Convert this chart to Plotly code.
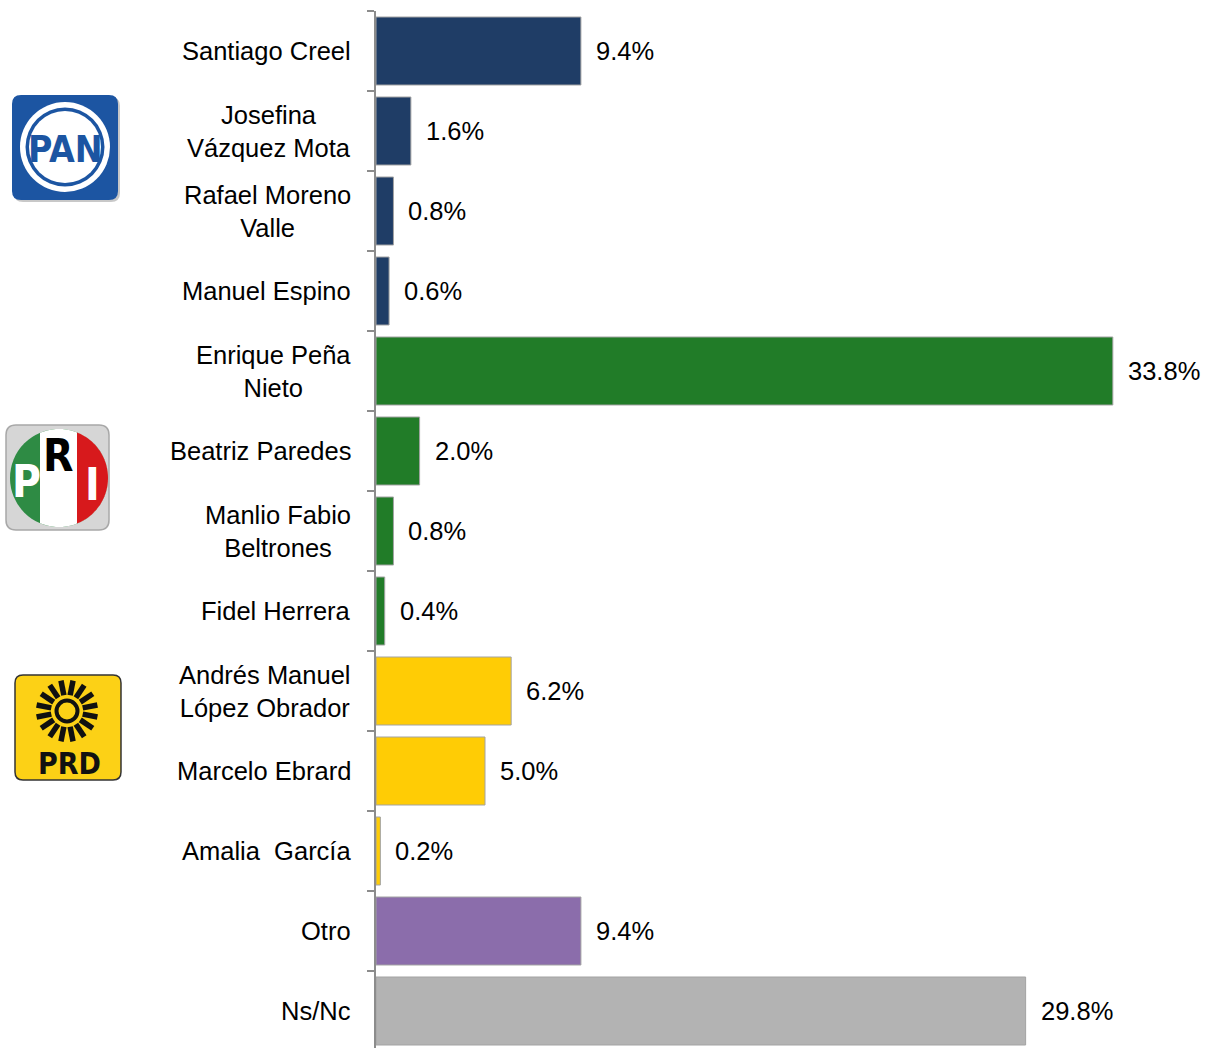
import numpy as np
import plotly.graph_objects as go

# ---------------- data ----------------
candidates = [
    "Santiago Creel", "Josefina Vázquez Mota", "Rafael Moreno Valle", "Manuel Espino",
    "Enrique Peña Nieto", "Beatriz Paredes", "Manlio Fabio Beltrones", "Fidel Herrera",
    "Andrés Manuel López Obrador", "Marcelo Ebrard", "Amalia  García", "Otro", "Ns/Nc",
]
tick_labels = [
    "Santiago Creel", "Josefina<br>Vázquez Mota", "Rafael Moreno<br>Valle", "Manuel Espino",
    "Enrique Peña<br>Nieto", "Beatriz Paredes", "Manlio Fabio<br>Beltrones", "Fidel Herrera",
    "Andrés Manuel<br>López Obrador", "Marcelo Ebrard", "Amalia\u00a0 García", "Otro", "Ns/Nc",
]
values = [9.4, 1.6, 0.8, 0.6, 33.8, 2.0, 0.8, 0.4, 6.2, 5.0, 0.2, 9.4, 29.8]
parties = ["PAN", "PAN", "PAN", "PAN", "PRI", "PRI", "PRI", "PRI",
           "PRD", "PRD", "PRD", "Otro", "NsNc"]

# ---------------- style ----------------
party_colors = {"PAN": "#1f3d66", "PRI": "#217c28", "PRD": "#ffcc05",
                "Otro": "#8b6dab", "NsNc": "#b3b3b3"}
OFF = 0                      # page margin around the figure (body margin removed)
W, H = 1205 - OFF, 1048 - OFF
FONT = "Liberation Sans, Arial, sans-serif"
NARROW = "Liberation Sans Narrow, Arial Narrow, DejaVu Sans Condensed, sans-serif"
AXIS_X = 376                 # page pixel of the category axis
TOP_Y = 11                   # page pixel of the plot top
PX_PER_UNIT = 21.8
BAND = 80.0


def fx(p):
    return (p - OFF) / W


def fy(p):
    return (H - (p - OFF)) / H


def rrect(x0, y0, x1, y1, r):
    pts = [
        ("M", (x0 + r, y0)), ("L", (x1 - r, y0)), ("Q", (x1, y0), (x1, y0 + r)),
        ("L", (x1, y1 - r)), ("Q", (x1, y1), (x1 - r, y1)), ("L", (x0 + r, y1)),
        ("Q", (x0, y1), (x0, y1 - r)), ("L", (x0, y0 + r)), ("Q", (x0, y0), (x0 + r, y0)),
    ]
    s = ""
    for item in pts:
        cmd = item[0]
        coords = " ".join(f"{fx(a):.5f},{fy(b):.5f}" for a, b in item[1:])
        s += f"{cmd}{coords} "
    return s + "Z"


def segment(cx, cy, r, xcut):
    a = np.arccos((xcut - cx) / r)
    th = np.linspace(-a, a, 60)
    xs = cx + r * np.cos(th)
    ys = cy + r * np.sin(th)
    s = "M" + " L".join(f"{fx(x):.5f},{fy(y):.5f}" for x, y in zip(xs, ys))
    return s + " Z"


def circle(cx, cy, r, fill, line=None, lw=0):
    return dict(type="circle", xref="paper", yref="paper",
                x0=fx(cx - r), x1=fx(cx + r), y0=fy(cy + r), y1=fy(cy - r),
                fillcolor=fill, line=dict(color=line or fill, width=lw), layer="above")


bar_colors = [party_colors[p] for p in parties]

fig = go.Figure(go.Bar(
    x=values, y=candidates, orientation="h",
    marker=dict(color=bar_colors, line=dict(color="#a3a3a3", width=1)),
    hoverinfo="skip",
))

annotations = []
for c, lab in zip(candidates, tick_labels):
    annotations.append(dict(x=fx(AXIS_X), xref="paper", y=c, yref="y", text=lab,
                            xanchor="right", yanchor="middle", align="center",
                            xshift=-23, showarrow=False,
                            font=dict(family=FONT, size=25.5, color="#000000")))
for c, v in zip(candidates, values):
    annotations.append(dict(x=v, xref="x", y=c, yref="y", text=f"{v:.1f}%",
                            xanchor="left", yanchor="middle", xshift=13,
                            showarrow=False,
                            font=dict(family=FONT, size=25.5, color="#000000")))

shapes = []
# ---- PAN logo ----
pan_blue = "#1c55a2"
shapes.append(dict(type="path", xref="paper", yref="paper", path=rrect(14, 97, 120, 202, 9),
                   fillcolor="#c8c8c8", line=dict(width=0), layer="above"))
shapes.append(dict(type="path", xref="paper", yref="paper", path=rrect(12, 95, 118, 200, 9),
                   fillcolor=pan_blue, line=dict(width=0), layer="above"))
shapes.append(circle(65, 147, 45, "#ffffff"))
shapes.append(circle(65, 147, 39.5, pan_blue))
shapes.append(circle(65, 147, 36, "#ffffff"))
annotations.append(dict(x=fx(65), y=fy(149), xref="paper", yref="paper", text="<b>PAN</b>",
                        showarrow=False, xanchor="center", yanchor="middle",
                        font=dict(family=NARROW, size=37, color=pan_blue)))

# ---- PRI logo ----
shapes.append(dict(type="path", xref="paper", yref="paper", path=rrect(6, 425, 109, 530, 10),
                   fillcolor="#d6d6d6", line=dict(color="#a8a8a8", width=1.5), layer="above"))
shapes.append(circle(59, 478, 49, "#2e8b44"))
shapes.append(dict(type="path", xref="paper", yref="paper", path=segment(59, 478, 49, 40),
                   fillcolor="#ffffff", line=dict(width=0), layer="above"))
shapes.append(dict(type="path", xref="paper", yref="paper", path=segment(59, 478, 49, 77),
                   fillcolor="#d7191c", line=dict(width=0), layer="above"))
for txt, cx, cy, col in [("P", 26, 482, "#ffffff"), ("R", 58, 455, "#000000"),
                         ("I", 92, 484, "#ffffff")]:
    annotations.append(dict(x=fx(cx), y=fy(cy), xref="paper", yref="paper",
                            text=f"<b>{txt}</b>", showarrow=False,
                            xanchor="center", yanchor="middle",
                            font=dict(family=NARROW, size=44, color=col)))

# ---- PRD logo ----
shapes.append(dict(type="path", xref="paper", yref="paper", path=rrect(15, 675, 121, 780, 8),
                   fillcolor="#fcd116", line=dict(color="#333333", width=1.5), layer="above"))
scx, scy = 67, 711
for ang in np.arange(0, 360, 22.5):
    t = np.deg2rad(ang + 11.25)
    r0, r1 = 16, 31
    shapes.append(dict(type="line", xref="paper", yref="paper",
                       x0=fx(scx + r0 * np.cos(t)), y0=fy(scy + r0 * np.sin(t)),
                       x1=fx(scx + r1 * np.cos(t)), y1=fy(scy + r1 * np.sin(t)),
                       line=dict(color="#111111", width=5.5), layer="above"))
shapes.append(circle(scx, scy, 10.5, "rgba(0,0,0,0)", "#111111", 4))
annotations.append(dict(x=fx(69), y=fy(763), xref="paper", yref="paper", text="<b>PRD</b>",
                        showarrow=False, xanchor="center", yanchor="middle",
                        font=dict(family=NARROW, size=30, color="#111111")))

plot_top = TOP_Y - OFF
plot_h = H - plot_top
fig.update_layout(
    width=W, height=H,
    margin=dict(l=0, r=0, t=0, b=0, pad=0),
    paper_bgcolor="#ffffff", plot_bgcolor="#ffffff",
    showlegend=False,
    bargap=0.15,
    xaxis=dict(domain=[fx(AXIS_X), 1], range=[0, (1205 - AXIS_X) / PX_PER_UNIT], visible=False,
               showgrid=False, zeroline=False, fixedrange=True),
    yaxis=dict(domain=[0, plot_h / H], type="category",
               categoryorder="array", categoryarray=candidates,
               range=[plot_h / BAND - 0.5, -0.5], autorange=False,
               showline=True, linecolor="#8c8c8c", linewidth=2,
               ticks="outside", ticklen=7, tickwidth=1.5, tickcolor="#8c8c8c",
               tickson="boundaries", showticklabels=False, showgrid=False,
               zeroline=False, automargin=False, fixedrange=True),
    annotations=annotations,
    shapes=shapes,
)

fig.write_html(
    "out.html",
    config={"displayModeBar": False, "staticPlot": True},
    post_script="document.body.style.margin='0';document.body.style.overflow='hidden';",
)
